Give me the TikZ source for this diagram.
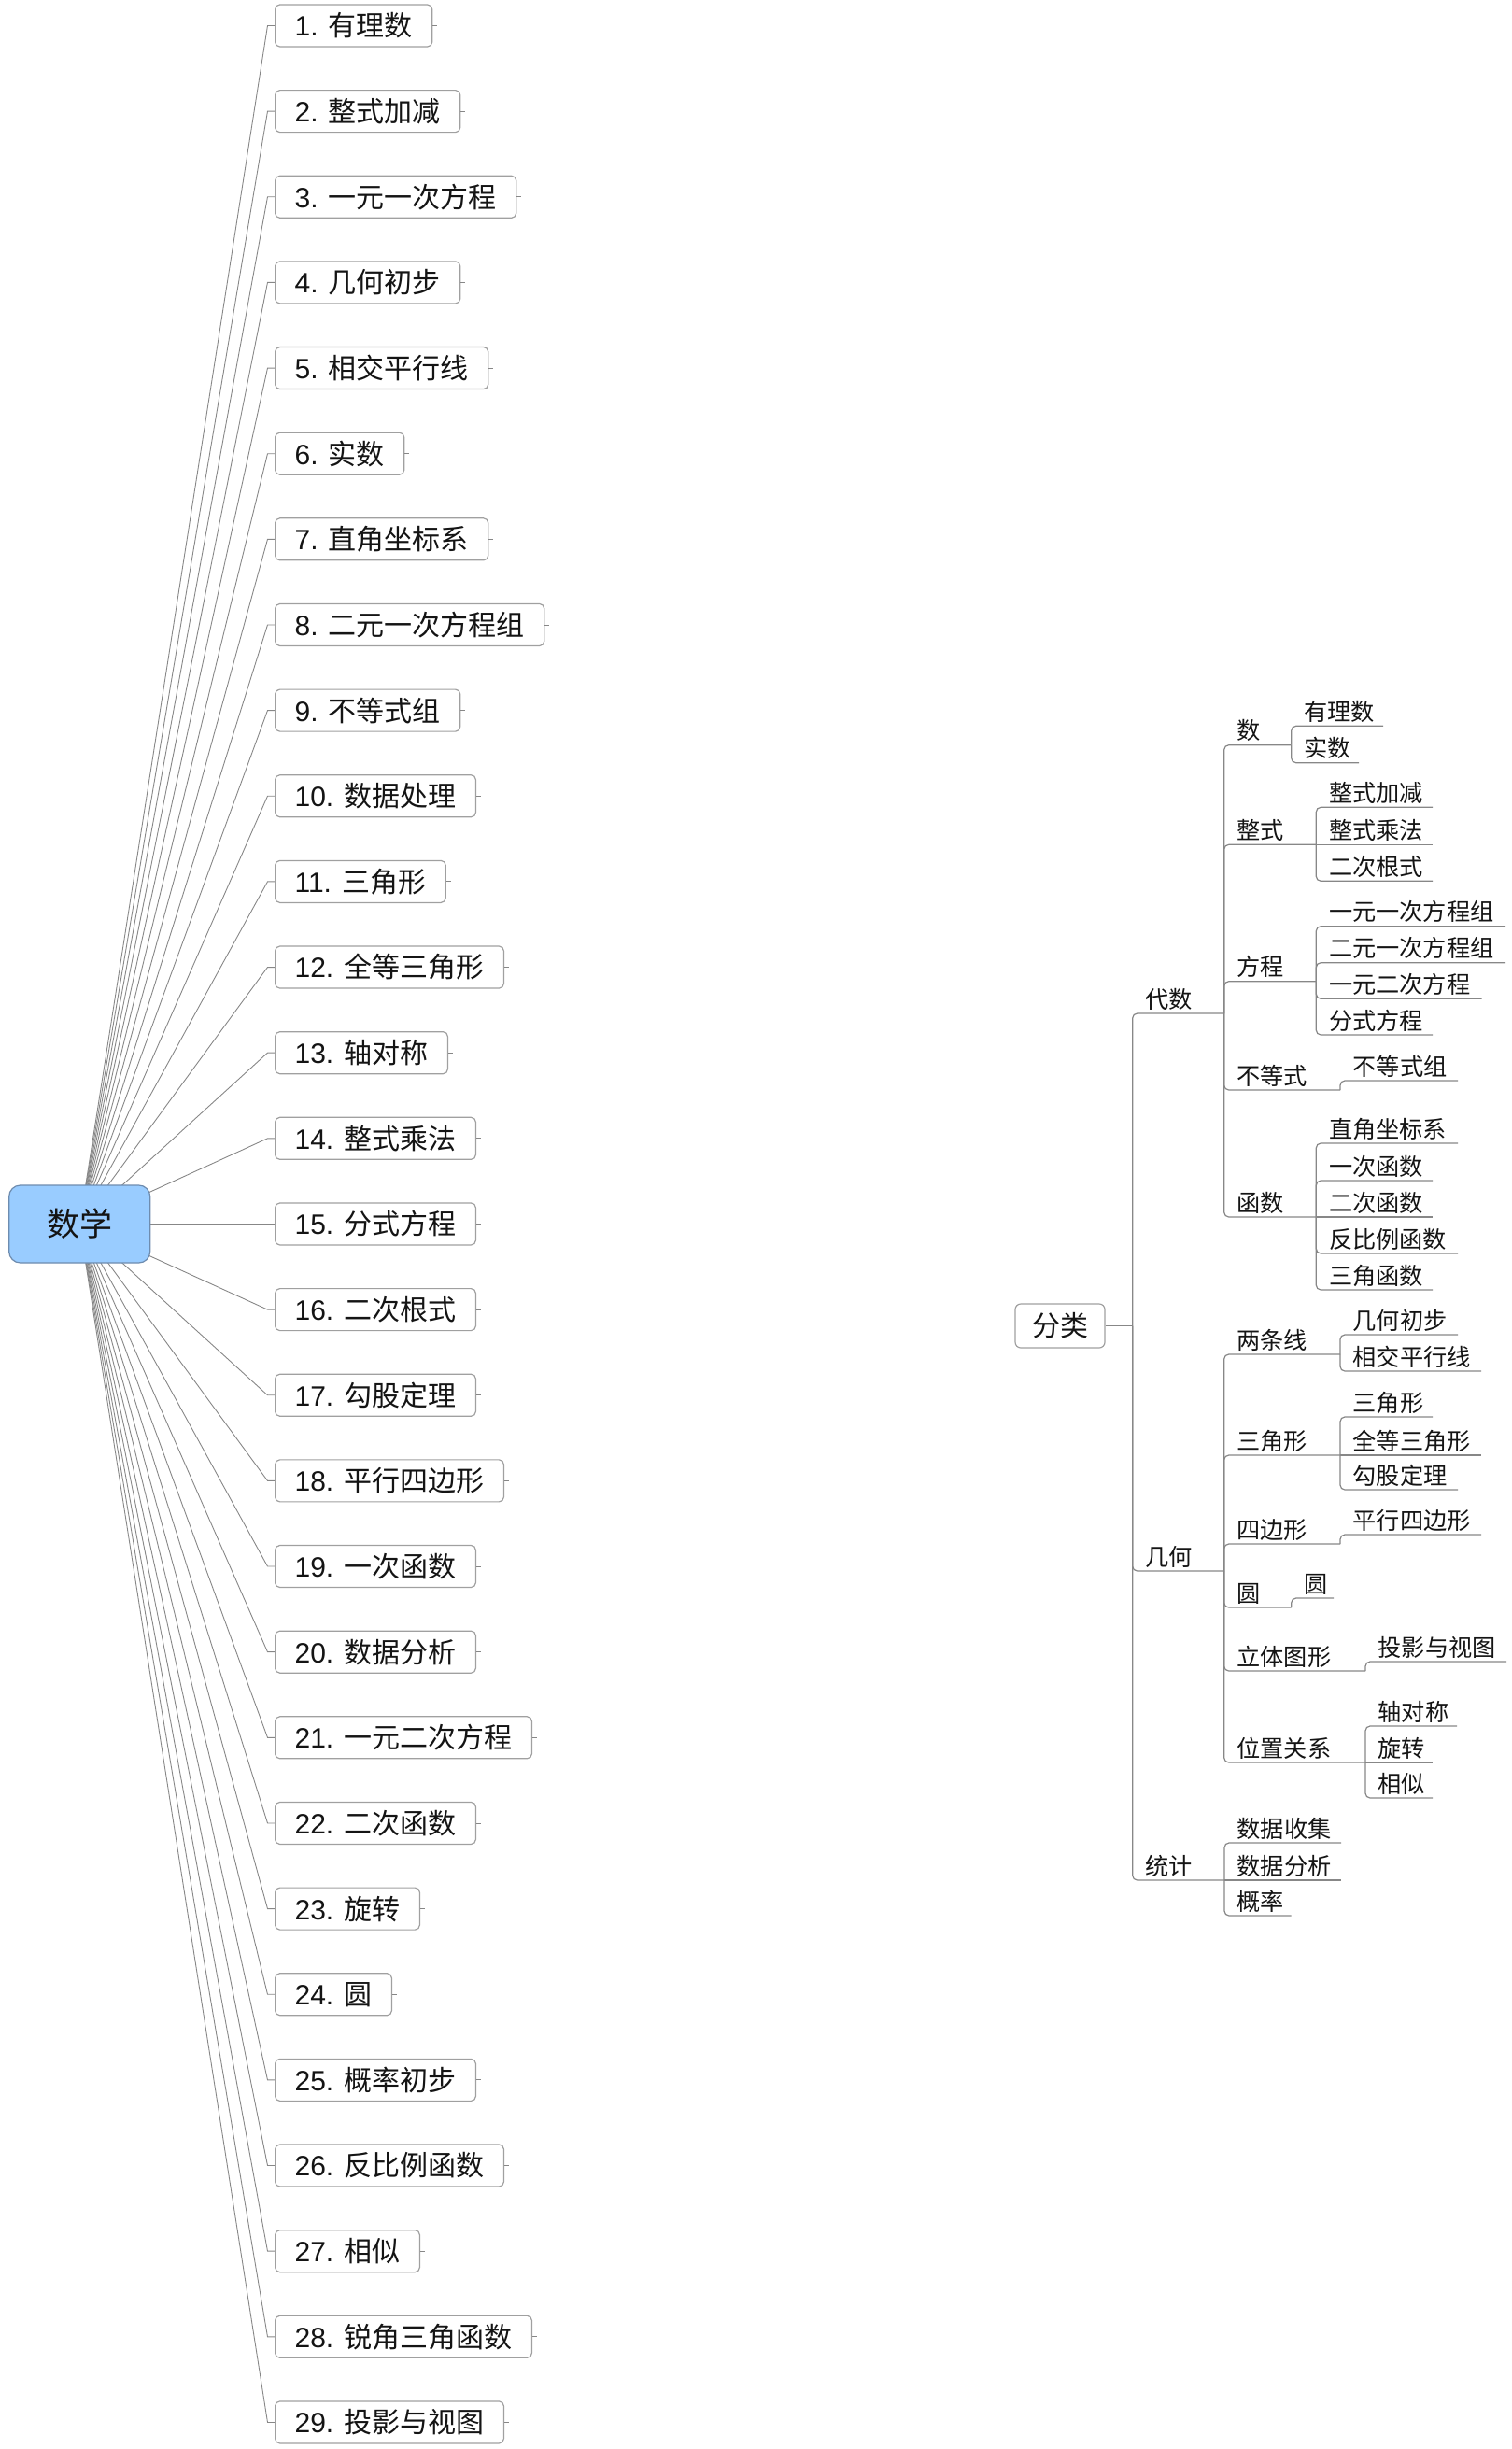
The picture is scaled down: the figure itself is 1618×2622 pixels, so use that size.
\documentclass[tikz,border=0pt]{standalone}
\usepackage{fontspec}
\setmainfont{Liberation Sans}
\newfontfamily\cjk{Noto Sans CJK SC}
\pgfdeclarelayer{bg}
\pgfsetlayers{bg,main}
\definecolor{lineg}{RGB}{135,135,135}
\definecolor{boxg}{RGB}{160,160,160}
\definecolor{rootfill}{RGB}{153,204,255}
\definecolor{rootdraw}{RGB}{110,140,175}
\definecolor{txt}{RGB}{20,20,20}
\tikzset{
  leafbox/.style={draw=boxg, line width=1.2pt, rounded corners=5pt, fill=white, anchor=west,
    minimum height=45pt, inner xsep=21pt, inner ysep=0pt, text=txt, font=\fontsize{30}{36}\selectfont},
  lconn/.style={draw=lineg, line width=0.9pt},
  rconn/.style={draw=lineg, line width=1.2pt, rounded corners=5pt},
  rlbl/.style={anchor=base west, inner sep=0pt, text=txt, font=\cjk\fontsize{25.2}{30}\selectfont},
  rootbox/.style={draw=rootdraw, line width=1.2pt, fill=rootfill, rounded corners=12pt,
    minimum width=151pt, minimum height=83pt, inner sep=0pt, text=txt, font=\cjk\fontsize{35}{40}\selectfont},
  catbox/.style={draw=boxg, line width=1.2pt, fill=white, rounded corners=6pt,
    minimum width=96pt, minimum height=47pt, inner sep=0pt, text=txt, font=\cjk\fontsize{30}{36}\selectfont}
}
% name, parent, bar x, y, text, end x
\newcommand\tn[6]{%
  \node[rlbl] (#1) at ({#3+13.5},{#4-6}) {#5};
  \coordinate (#1-j) at (#6,#4);
  \draw[rconn] (#2-j) |- (#1-j);
}
\newcommand\tnh[6]{%
  \node[rlbl] (#1) at ({#3+13.5},{#4-6}) {#5};
  \coordinate (#1-j) at (#6,#4);
  \draw[rconn] (#2-j) -- (#1-j);
}
\begin{document}
\begin{tikzpicture}[x=1pt,y=-1pt]
\useasboundingbox (0,0) rectangle (1618,2622);
% ---------- left mind map ----------
\node[rootbox] (root) at (85.2,1310.5) {数学};
\foreach \nm [count=\i] in {有理数,整式加减,一元一次方程,几何初步,相交平行线,实数,直角坐标系,二元一次方程组,不等式组,数据处理,三角形,全等三角形,轴对称,整式乘法,分式方程,二次根式,勾股定理,平行四边形,一次函数,数据分析,一元二次方程,二次函数,旋转,圆,概率初步,反比例函数,相似,锐角三角函数,投影与视图}{
  \node[leafbox] (b\i) at (294,{27.5+(\i-1)*91.64}) {\i. {\cjk\nm}};
  \coordinate (c\i) at (286.5,{27.5+(\i-1)*91.64});
  \draw[lconn] (b\i.east) -- ++(5,0);
}
\begin{pgfonlayer}{bg}
\foreach \i in {1,...,29} \draw[lconn] (root.center) -- (c\i) -- (b\i.west);
\end{pgfonlayer}
% ---------- right tree ----------
\node[catbox] (fl) at (1135,1419.5) {分类};
\coordinate (fl-j) at (1212.7,1419.5);
\draw[rconn] (fl.east) -- (fl-j);
% level 1
\tn{ds}{fl}{1212.7}{1085}{代数}{1310.7}
\tn{jh}{fl}{1212.7}{1682}{几何}{1310.7}
\tn{tj}{fl}{1212.7}{2013}{统计}{1311}
% 代数
\tn{shu}{ds}{1310.7}{797.7}{数}{1382.7}
\tn{zs}{ds}{1310.7}{904.3}{整式}{1409.3}
\tn{fc}{ds}{1310.7}{1050.7}{方程}{1409.3}
\tn{bds}{ds}{1310.7}{1167}{不等式}{1435}
\tn{hs}{ds}{1310.7}{1303}{函数}{1409.3}
\tn{a1}{shu}{1382.7}{777.3}{有理数}{1481}
\tn{a2}{shu}{1382.7}{816.7}{实数}{1455}
\tn{a3}{zs}{1409.3}{864.3}{整式加减}{1534}
\tnh{a4}{zs}{1409.3}{904.3}{整式乘法}{1534}
\tn{a5}{zs}{1409.3}{943.3}{二次根式}{1534}
\tn{a6}{fc}{1409.3}{991.7}{一元一次方程组}{1612}
\tn{a7}{fc}{1409.3}{1030.7}{二元一次方程组}{1612}
\tn{a8}{fc}{1409.3}{1069.3}{一元二次方程}{1586.7}
\tn{a9}{fc}{1409.3}{1108}{分式方程}{1534}
\tn{a10}{bds}{1435}{1157}{不等式组}{1561}
\tn{a11}{hs}{1409.3}{1224}{直角坐标系}{1561}
\tn{a12}{hs}{1409.3}{1264}{一次函数}{1534}
\tnh{a13}{hs}{1409.3}{1303}{二次函数}{1534}
\tn{a14}{hs}{1409.3}{1342}{反比例函数}{1561}
\tn{a15}{hs}{1409.3}{1381}{三角函数}{1534}
% 几何
\tn{ltx}{jh}{1310.7}{1450}{两条线}{1435}
\tn{sjx}{jh}{1310.7}{1558}{三角形}{1435}
\tn{sbx}{jh}{1310.7}{1653}{四边形}{1435}
\tn{yuan}{jh}{1310.7}{1721}{圆}{1382.7}
\tn{lt}{jh}{1310.7}{1789}{立体图形}{1462}
\tn{wz}{jh}{1310.7}{1887}{位置关系}{1462}
\tn{g1}{ltx}{1435}{1429}{几何初步}{1561}
\tn{g2}{ltx}{1435}{1468}{相交平行线}{1586}
\tn{g3}{sjx}{1435}{1517}{三角形}{1534}
\tnh{g4}{sjx}{1435}{1558}{全等三角形}{1586}
\tn{g5}{sjx}{1435}{1595}{勾股定理}{1561}
\tn{g6}{sbx}{1435}{1643}{平行四边形}{1586}
\tn{g7}{yuan}{1382.7}{1711}{圆}{1428}
\tn{g8}{lt}{1462}{1779}{投影与视图}{1613}
\tn{g9}{wz}{1462}{1848}{轴对称}{1560}
\tnh{g10}{wz}{1462}{1887}{旋转}{1534}
\tn{g11}{wz}{1462}{1925}{相似}{1534}
% 统计
\tn{s1}{tj}{1311}{1973}{数据收集}{1436}
\tnh{s2}{tj}{1311}{2013}{数据分析}{1436}
\tn{s3}{tj}{1311}{2051}{概率}{1382.6}
\end{tikzpicture}
\end{document}
